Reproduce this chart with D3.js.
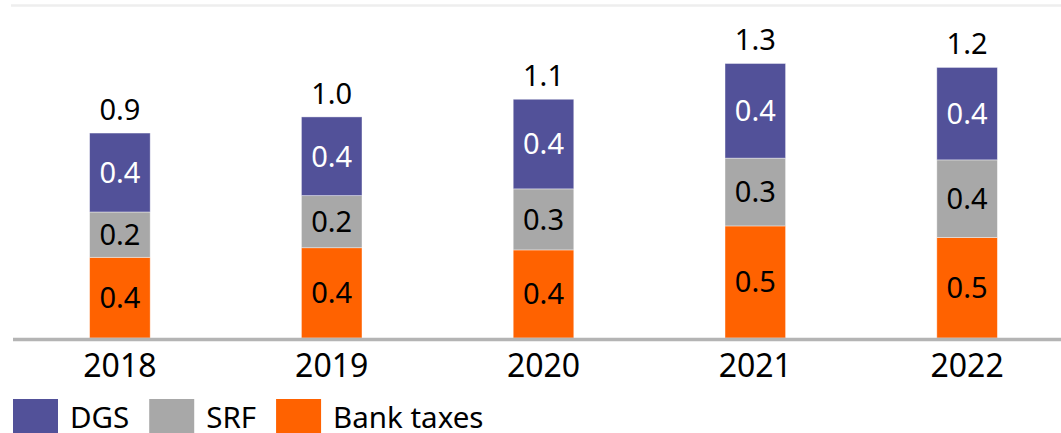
<!DOCTYPE html>
<html lang="en">
<head>
    <meta charset="UTF-8">
    <title>DGS, SRF and bank taxes</title>
    <script src="https://d3js.org/d3.v7.min.js"></script>
    <style>
        body, html {
            margin: 0;
            padding: 0;
            background: #fff;
        }
        svg text {
            font-family: "Noto Sans", sans-serif;
        }
    </style>
</head>
<body>
    <div id="chart"></div>
    <script>
        const years = ["2018", "2019", "2020", "2021", "2022"];
        const bankTaxes = [0.370, 0.414, 0.404, 0.514, 0.461];
        const srf = [0.208, 0.239, 0.280, 0.311, 0.356];
        const dgs = [0.362, 0.361, 0.411, 0.434, 0.424];
        const seriesNames = ["Bank taxes", "SRF", "DGS"];
        const legendNames = ["DGS", "SRF", "Bank taxes"];

        const W = 1061, H = 433;
        const colors = { "DGS": "#525199", "SRF": "#a8a8a8", "Bank taxes": "#ff6200" };
        const labelColors = { "DGS": "#fff", "SRF": "#000", "Bank taxes": "#000" };

        const rows = years.map((yr, i) => ({
            year: yr,
            "Bank taxes": bankTaxes[i],
            "SRF": srf[i],
            "DGS": dgs[i]
        }));

        const svg = d3.select("#chart").append("svg")
            .attr("width", W)
            .attr("height", H);

        const x = d3.scaleBand()
            .domain(years)
            .range([14, 1073])
            .paddingInner(0.714)
            .paddingOuter(0.357);

        const y = d3.scaleLinear()
            .domain([0, 1.525])
            .range([338, 5.5]);

        // top gridline
        svg.append("line")
            .attr("x1", 11).attr("x2", W)
            .attr("y1", y(1.525)).attr("y2", y(1.525))
            .attr("stroke", "#eeeeee")
            .attr("stroke-width", 2.5);

        const stack = d3.stack().keys(seriesNames)(rows);
        const fmt = d3.format(".1f");

        const layers = svg.selectAll(".layer")
            .data(stack)
            .enter().append("g")
            .attr("class", "layer")
            .attr("fill", d => colors[d.key]);

        layers.selectAll("rect")
            .data(d => d)
            .enter().append("rect")
            .attr("x", d => x(d.data.year))
            .attr("width", x.bandwidth())
            .attr("y", d => y(d[1]))
            .attr("height", d => y(d[0]) - y(d[1]))
            .attr("stroke", "#fff")
            .attr("stroke-opacity", 0.5)
            .attr("stroke-width", 0.8);

        stack.forEach(layer => {
            svg.append("g").selectAll("text")
                .data(layer)
                .enter().append("text")
                .attr("x", d => x(d.data.year) + x.bandwidth() / 2)
                .attr("y", d => (y(d[0]) + y(d[1])) / 2)
                .attr("dy", "0.36em")
                .attr("text-anchor", "middle")
                .attr("font-size", 29)
                .attr("fill", labelColors[layer.key])
                .text(d => fmt(d[1] - d[0]));
        });

        // totals
        svg.append("g").selectAll("text")
            .data(rows)
            .enter().append("text")
            .attr("x", d => x(d.year) + x.bandwidth() / 2)
            .attr("y", d => y(d["Bank taxes"] + d.SRF + d.DGS) - 13)
            .attr("text-anchor", "middle")
            .attr("font-size", 29)
            .attr("fill", "#000")
            .text(d => fmt(d["Bank taxes"] + d.SRF + d.DGS));

        // x axis
        const xAxis = svg.append("g")
            .attr("transform", `translate(0,${y(0)})`)
            .call(d3.axisBottom(x).tickSize(0).tickPadding(0));
        xAxis.select(".domain").remove();
        xAxis.selectAll("text")
            .attr("y", 39)
            .attr("dy", 0)
            .attr("font-size", 32)
            .attr("fill", "#000")
            .style("font-family", '"Noto Sans", sans-serif');

        svg.append("line")
            .attr("x1", 13).attr("x2", W)
            .attr("y1", 339.5).attr("y2", 339.5)
            .attr("stroke", "#b4b4b4")
            .attr("stroke-width", 3.5);

        // legend
        const legend = svg.append("g");
        let lx = 13;
        legendNames.forEach(name => {
            legend.append("rect")
                .attr("x", lx).attr("y", 399)
                .attr("width", 45).attr("height", 36)
                .attr("fill", colors[name]);
            const t = legend.append("text")
                .attr("x", lx + 57).attr("y", 428)
                .attr("font-size", 29.5)
                .attr("fill", "#000")
                .text(name);
            lx += 57 + t.node().getComputedTextLength() + 20;
        });
    </script>
</body>
</html>
